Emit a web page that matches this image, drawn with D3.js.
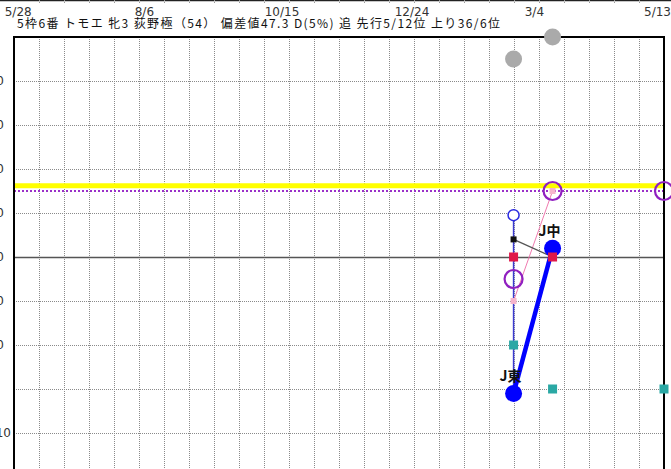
<!DOCTYPE html>
<html><head><meta charset="utf-8">
<script src="https://cdn.jsdelivr.net/npm/d3@7"></script>
<style>html,body{margin:0;padding:0;background:#fff;overflow:hidden}svg{display:block}</style>
</head><body>
<script>
// ---- data ----
const titleText = "5枠6番 トモエ 牝3 荻野極（54） 偏差値47.3 D(5%) 追 先行5/12位 上り36/6位";
const dateLabels = ["2022-05-28","2022-08-06","2022-10-15","2022-12-24","2023-03-04","2023-05-13"];
const yTicks = [90, 80, 70, 60, 50, 40, 30, 20, 10];
const yTickLabels = ["90","80","70","60","50","40","30","","10"];
const raceDates = ["2023-02-26","2023-03-19","2023-05-18"];
const grayVals     = [95, 100, null];
const blueOpenVals = [59.5, null, null];
const blackVals    = [54, 50, null];
const redVals      = [50, 50, null];
const purpleVals   = [45, 65, 65];
const pinkVals     = [40, 65, null];
const tealVals     = [30, 20, 20];
const blueVals     = [19, 52, null];
const blueLabels   = ["J東", "J中", null];
const yellowLevel = 66.2;
const purpleLevel = 65;
const baseLevel = 50;

// ---- layout ----
const W = 671, H = 469;
const L = 14, R = 664, T = 37;
const parse = d3.timeParse("%Y-%m-%d");
const x = d3.scaleTime().domain([parse("2022-06-02"), parse("2023-05-18")]).range([L, R]);
const y = d3.scaleLinear().domain([0, 100]).range([477, T]);
const gridX = d3.scaleLinear().domain([0, 26]).range([L, R]);
const latin = "'DejaVu Sans','Liberation Sans',sans-serif";

const svg = d3.select("body").append("svg").attr("width", W).attr("height", H)
  .style("font-family", "'Noto Sans CJK JP','Noto Sans',sans-serif");

// top strip (previous panel bottom)
svg.append("line").attr("x1", 0).attr("x2", W).attr("y1", 0.5).attr("y2", 0.5)
  .attr("stroke", "#222").attr("stroke-width", 1.5);
svg.append("g").selectAll("line").data(d3.range(1, 26)).join("line")
  .attr("x1", d => gridX(d) + 0.5).attr("x2", d => gridX(d) + 0.5).attr("y1", 0).attr("y2", 4)
  .attr("stroke", "#999").attr("stroke-width", 1).attr("stroke-dasharray", "1,1");

// grid
const grid = svg.append("g");
grid.selectAll("line.v").data(d3.range(1, 26)).join("line").attr("class", "v")
  .attr("x1", d => gridX(d) + 0.5).attr("x2", d => gridX(d) + 0.5).attr("y1", T).attr("y2", H)
  .attr("stroke", "#8a8a8a").attr("stroke-width", 1).attr("stroke-dasharray", "1,1");
grid.selectAll("line.h").data(yTicks.filter(v => v !== baseLevel)).join("line").attr("class", "h")
  .attr("x1", L).attr("x2", R).attr("y1", d => Math.round(y(d)) + 0.5).attr("y2", d => Math.round(y(d)) + 0.5)
  .attr("stroke", "#8a8a8a").attr("stroke-width", 1).attr("stroke-dasharray", "1,1");
grid.append("line").attr("x1", L).attr("x2", R)
  .attr("y1", Math.round(y(baseLevel)) + 0.5).attr("y2", Math.round(y(baseLevel)) + 0.5)
  .attr("stroke", "#555").attr("stroke-width", 1.5);

// y tick labels (clipped at left)
svg.append("g").selectAll("text").data(yTicks).join("text")
  .attr("x", d => d === 10 ? 11 : 4).attr("y", d => y(d) + 4)
  .attr("text-anchor", "end").attr("font-size", 12).attr("fill", "#333")
  .style("font-family", latin)
  .text((d, i) => yTickLabels[i]);

// reference levels
svg.append("line").attr("x1", L).attr("x2", R).attr("y1", y(yellowLevel)).attr("y2", y(yellowLevel))
  .attr("stroke", "#ffff00").attr("stroke-width", 5);
svg.append("line").attr("x1", L).attr("x2", R).attr("y1", y(purpleLevel)).attr("y2", y(purpleLevel))
  .attr("stroke", "#9a30c8").attr("stroke-width", 2).attr("stroke-dasharray", "2,2");

// frame
svg.append("line").attr("x1", L - 1).attr("x2", R + 1).attr("y1", T).attr("y2", T).attr("stroke", "#000").attr("stroke-width", 2);
svg.append("line").attr("x1", L).attr("x2", L).attr("y1", T).attr("y2", H).attr("stroke", "#000").attr("stroke-width", 2);
svg.append("line").attr("x1", R).attr("x2", R).attr("y1", T).attr("y2", H).attr("stroke", "#000").attr("stroke-width", 2);

// date labels
const dl = svg.append("g").selectAll("text").data(dateLabels).join("text")
  .attr("y", 15.5).attr("font-size", 12).attr("fill", "#333")
  .style("font-family", latin)
  .text(d => d3.timeFormat("%-m/%-d")(parse(d)));
dl.each(function(d) {
  const w = this.getComputedTextLength();
  const px = Math.min(x(parse(d)), W - w);
  d3.select(this).attr("x", px);
});

// title
svg.append("text").attr("x", 17).attr("y", 27.5).attr("font-size", 12).attr("fill", "#111")
  .attr("textLength", 483).attr("lengthAdjust", "spacing").text(titleText);

// ---- series ----
const pts = (vals) => raceDates.map((d, i) => ({x: x(parse(d)), v: vals[i], i})).filter(p => p.v != null);
const lineGen = d3.line().x(p => p.x).y(p => y(p.v));

// thin blue range line (race 1)
const rangePts = raceDates.map((d, i) => ({x: x(parse(d)), a: blueOpenVals[i], b: blueVals[i]})).filter(p => p.a != null && p.b != null);
svg.append("g").selectAll("line").data(rangePts).join("line")
  .attr("x1", p => p.x).attr("x2", p => p.x).attr("y1", p => y(p.a)).attr("y2", p => y(p.b))
  .attr("stroke", "#3a3ad0").attr("stroke-width", 1.5);

svg.append("path").attr("d", lineGen(pts(pinkVals))).attr("fill", "none").attr("stroke", "#f07ab0").attr("stroke-width", 1);
svg.append("path").attr("d", lineGen(pts(blackVals))).attr("fill", "none").attr("stroke", "#555").attr("stroke-width", 1.3);
svg.append("path").attr("d", lineGen(pts(blueVals))).attr("fill", "none").attr("stroke", "#0000ff").attr("stroke-width", 4.5);

function squares(vals, size, color) {
  svg.append("g").selectAll("rect").data(pts(vals)).join("rect")
    .attr("x", p => p.x - size / 2).attr("y", p => y(p.v) - size / 2)
    .attr("width", size).attr("height", size).attr("fill", color);
}
squares(tealVals, 9, "#2aa8a4");
squares(pinkVals, 6, "#f6b4cc");
squares(blackVals, 6, "#111");

svg.append("g").selectAll("circle").data(pts(purpleVals)).join("circle")
  .attr("cx", p => p.x).attr("cy", p => y(p.v)).attr("r", 9)
  .attr("fill", "none").attr("stroke", "#9020c0").attr("stroke-width", 2.2);
svg.append("g").selectAll("circle").data(pts(blueOpenVals)).join("circle")
  .attr("cx", p => p.x).attr("cy", p => y(p.v)).attr("r", 5.5)
  .attr("fill", "#fff").attr("stroke", "#2a2ae0").attr("stroke-width", 1.5);
svg.append("g").selectAll("circle").data(pts(blueVals)).join("circle")
  .attr("cx", p => p.x).attr("cy", p => y(p.v)).attr("r", 8.5).attr("fill", "#0000ff");
squares(redVals, 9, "#e0184a");
svg.append("g").selectAll("circle").data(pts(grayVals)).join("circle")
  .attr("cx", p => p.x).attr("cy", p => y(p.v)).attr("r", 8.5).attr("fill", "#aaaaaa");

// blue labels
svg.append("g").selectAll("text").data(pts(blueVals)).join("text")
  .attr("x", p => p.x - 14).attr("y", p => y(p.v) - 12)
  .attr("font-size", 14).attr("font-weight", "bold").attr("fill", "#111")
  .text(p => blueLabels[p.i]);
</script>
</body></html>
